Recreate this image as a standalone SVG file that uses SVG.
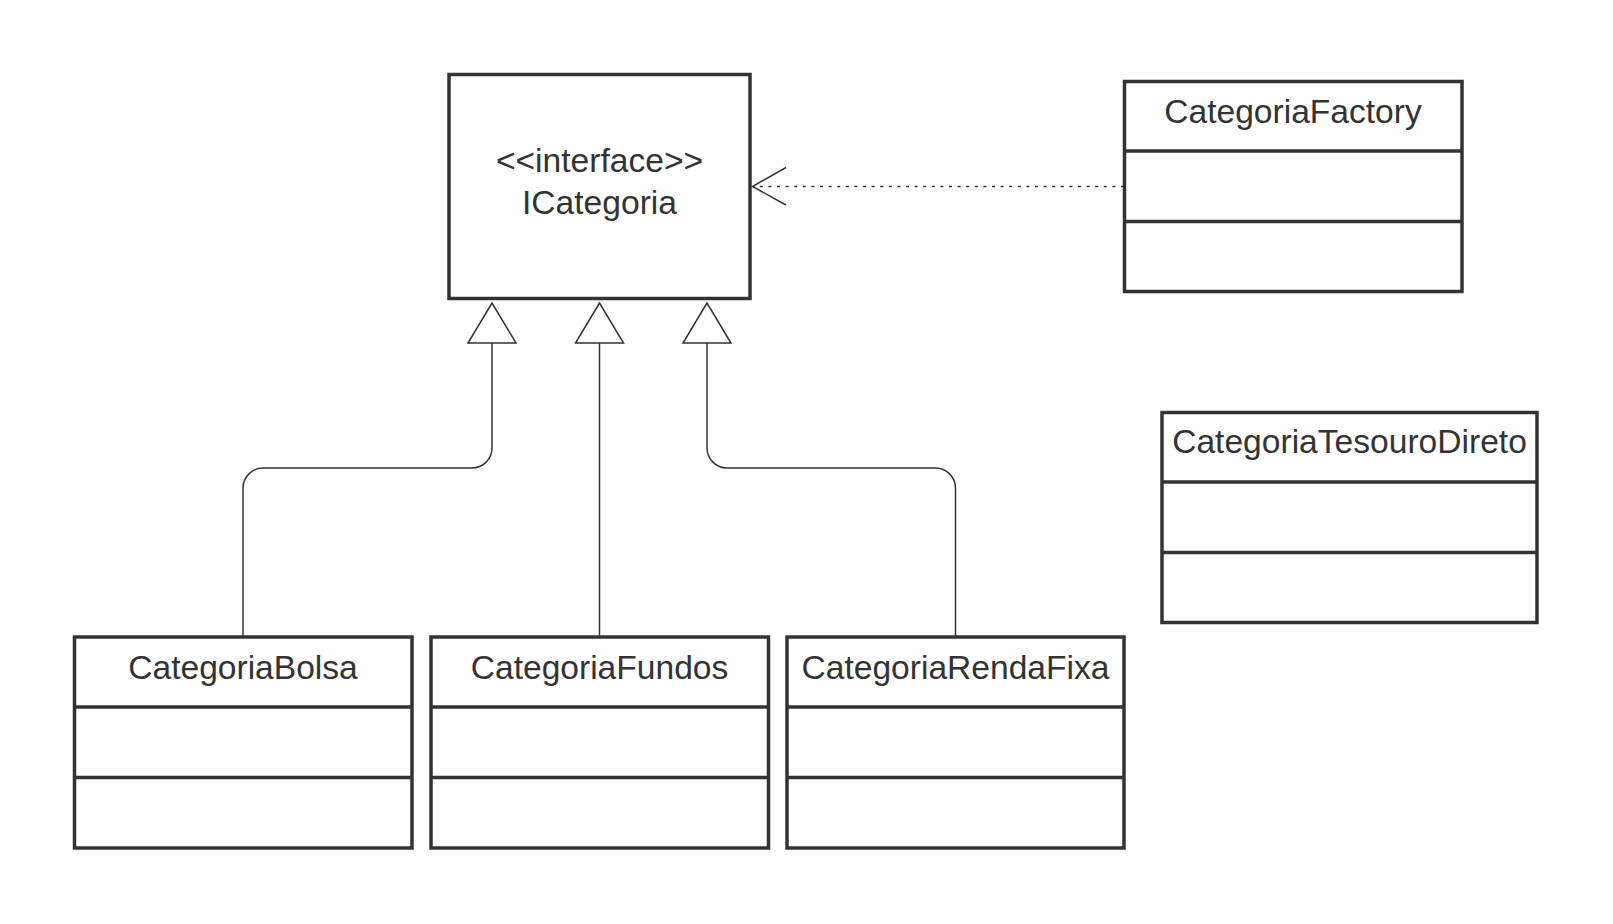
<svg xmlns="http://www.w3.org/2000/svg" width="1613" height="924" viewBox="0 0 1613 924">
  <style>
    .box { fill: #ffffff; stroke: #333333; stroke-width: 3.5; }
    .div { stroke: #333333; stroke-width: 3.5; }
    .lbl { font-family: "Liberation Sans", Arial, sans-serif; font-size: 33.6px; fill: #333333; text-anchor: middle; }
    .edge { fill: none; stroke: #333333; stroke-width: 1.5; }
    .tri { fill: #ffffff; stroke: #333333; stroke-width: 1.5; stroke-linejoin: miter; }
  </style>
  <rect width="1613" height="924" fill="#ffffff"/>

  <!-- connectors -->
  <g id="connectors">
    <!-- generalisation: CategoriaBolsa -> ICategoria -->
    <path class="edge" stroke-width="2" d="M492 343 V448 A20 20 0 0 1 472 468 H263 A20 20 0 0 0 243 488 V637"/>
    <polygon class="tri" points="492,303 468,343 516,343"/>
    <!-- generalisation: CategoriaFundos -> ICategoria -->
    <path class="edge" stroke-width="1" d="M599.5 343 V637"/>
    <polygon class="tri" points="599.5,303 575.5,343 623.5,343"/>
    <!-- generalisation: CategoriaRendaFixa -> ICategoria -->
    <path class="edge" d="M707 343 V448 A20 20 0 0 0 727 468 H935.5 A20 20 0 0 1 955.5 488 V637"/>
    <polygon class="tri" points="707,303 683,343 731,343"/>
    <!-- dependency: CategoriaFactory -> ICategoria -->
    <path class="edge" stroke-dasharray="3 5.6" d="M1124 186.5 H753"/>
    <path class="edge" d="M786 167.5 L752.5 186.5 L786 205"/>
  </g>

  <!-- ICategoria interface -->
  <g id="ICategoria">
    <rect class="box" x="449" y="74.5" width="301" height="224"/>
    <text class="lbl" x="599.5" y="172">&lt;&lt;interface&gt;&gt;</text>
    <text class="lbl" x="599.5" y="214">ICategoria</text>
  </g>

  <!-- CategoriaFactory -->
  <g id="CategoriaFactory">
    <rect class="box" x="1124.5" y="81.5" width="337.5" height="210"/>
    <line class="div" x1="1124.5" y1="151" x2="1462" y2="151"/>
    <line class="div" x1="1124.5" y1="221.5" x2="1462" y2="221.5"/>
    <text class="lbl" x="1293" y="123">CategoriaFactory</text>
  </g>

  <!-- CategoriaTesouroDireto -->
  <g id="CategoriaTesouroDireto">
    <rect class="box" x="1162" y="412.5" width="375" height="210"/>
    <line class="div" x1="1162" y1="482" x2="1537" y2="482"/>
    <line class="div" x1="1162" y1="552.5" x2="1537" y2="552.5"/>
    <text class="lbl" x="1349.5" y="453">CategoriaTesouroDireto</text>
  </g>

  <!-- CategoriaBolsa -->
  <g id="CategoriaBolsa">
    <rect class="box" x="74.5" y="637" width="337.5" height="211"/>
    <line class="div" x1="74.5" y1="707" x2="412" y2="707"/>
    <line class="div" x1="74.5" y1="777.5" x2="412" y2="777.5"/>
    <text class="lbl" x="243" y="679">CategoriaBolsa</text>
  </g>

  <!-- CategoriaFundos -->
  <g id="CategoriaFundos">
    <rect class="box" x="431" y="637" width="337.5" height="211"/>
    <line class="div" x1="431" y1="707" x2="768.5" y2="707"/>
    <line class="div" x1="431" y1="777.5" x2="768.5" y2="777.5"/>
    <text class="lbl" x="599.5" y="679">CategoriaFundos</text>
  </g>

  <!-- CategoriaRendaFixa -->
  <g id="CategoriaRendaFixa">
    <rect class="box" x="787" y="637" width="337" height="211"/>
    <line class="div" x1="787" y1="707" x2="1124" y2="707"/>
    <line class="div" x1="787" y1="777.5" x2="1124" y2="777.5"/>
    <text class="lbl" x="955.5" y="679">CategoriaRendaFixa</text>
  </g>
</svg>
